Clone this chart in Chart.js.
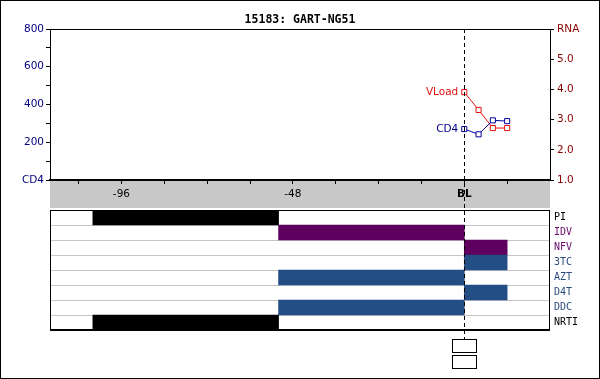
<!DOCTYPE html>
<html><head><meta charset="utf-8">
<script src="https://cdn.jsdelivr.net/npm/chart.js@4.4.0/dist/chart.umd.min.js"></script>
<style>
html,body{margin:0;padding:0;background:#fff;}
#wrap{position:relative;width:600px;height:379px;background:#fff;}
canvas{position:absolute;left:0;top:0;}
</style></head><body>
<div id="wrap"><canvas id="c1" width="600" height="379"></canvas><canvas id="c2" width="600" height="379"></canvas></div>
<script>
// ---- data ----
const chartTitle = '15183: GART-NG51';
const weeks = [0, 4, 8, 12];
const cd4 = [270, 242, 316, 312];
const vload = [3.91, 3.32, 2.72, 2.72];
const xTickValues = [-108, -96, -84, -72, -60, -48, -36, -24, -12, 0, 12];
const xTickLabelValues = [-96, -48, 0];
const xTickLabelTexts = ['-96', '-48', 'BL'];
const drugs = ['PI', 'IDV', 'NFV', '3TC', 'AZT', 'D4T', 'DDC', 'NRTI'];
const drugClass = ['PI', 'PI', 'PI', 'NRTI', 'NRTI', 'NRTI', 'NRTI', 'NRTI'];
const drugIsHeader = [true, false, false, false, false, false, false, true];
const drugStart = [-104, -52, 0, 0, -52, 0, -52, -104];
const drugEnd = [-52, 0, 12, 12, 0, 12, 0, -52];

// ---- styles ----
const X_MIN = -116, X_MAX = 24;
const classBarColor = {PI: '#5e005e', NRTI: '#224d85'};
const classLabelColor = {PI: '#6a0a6a', NRTI: '#2b4c7e'};
const barColors = drugs.map((d, i) => drugIsHeader[i] ? '#000000' : classBarColor[drugClass[i]]);
const labelColors = drugs.map((d, i) => drugIsHeader[i] ? '#000000' : classLabelColor[drugClass[i]]);
const SANS = '"DejaVu Sans", Verdana, sans-serif';
const MONO = '"DejaVu Sans Mono", monospace';

const decor1 = {
  id: 'decor1',
  beforeDraw(chart) {
    const ctx = chart.ctx, a = chart.chartArea;
    ctx.save();
    ctx.fillStyle = '#c8c8c8';
    ctx.fillRect(a.left, a.bottom, a.right - a.left, 28);
    ctx.restore();
  },
  afterDatasetsDraw(chart) {
    const ctx = chart.ctx;
    ctx.save();
    ctx.font = '10.5px ' + SANS;
    ctx.textAlign = 'right';
    ctx.textBaseline = 'middle';
    const m0 = chart.getDatasetMeta(0).data[0];
    const m1 = chart.getDatasetMeta(1).data[0];
    ctx.fillStyle = '#00008b';
    ctx.fillText('CD4', m0.x - 6, m0.y);
    ctx.fillStyle = '#e01010';
    ctx.fillText('VLoad', m1.x - 6, m1.y);
    ctx.restore();
  },
  afterDraw(chart) {
    const ctx = chart.ctx, a = chart.chartArea;
    ctx.save();
    ctx.strokeStyle = '#000';
    ctx.lineWidth = 1;
    ctx.beginPath();
    ctx.moveTo(a.left, a.top + 0.5);
    ctx.lineTo(a.right, a.top + 0.5);
    ctx.stroke();
    ctx.fillStyle = '#000';
    ctx.font = 'bold 11.5px ' + MONO;
    ctx.textAlign = 'center';
    ctx.textBaseline = 'middle';
    ctx.fillText(chartTitle, 300, 20);
    ctx.restore();
  }
};

new Chart(document.getElementById('c1'), {
  type: 'line',
  data: {
    datasets: [
      {label: 'CD4', data: weeks.map((w, i) => ({x: w, y: cd4[i]})), yAxisID: 'y',
       borderColor: '#0000a0', backgroundColor: '#ffffff', borderWidth: 1,
       pointStyle: 'rect', pointRadius: 3.6, pointBorderWidth: 1, pointBackgroundColor: '#ffffff', pointBorderColor: '#0000a0'},
      {label: 'VLoad', data: weeks.map((w, i) => ({x: w, y: vload[i]})), yAxisID: 'y2',
       borderColor: '#e01010', backgroundColor: '#ffffff', borderWidth: 1,
       pointStyle: 'rect', pointRadius: 3.6, pointBorderWidth: 1, pointBackgroundColor: '#ffffff', pointBorderColor: '#e01010'}
    ]
  },
  options: {
    responsive: false, animation: false, devicePixelRatio: 1,
    layout: {padding: {top: 29, bottom: 171, left: 0, right: 0}},
    plugins: {legend: {display: false}, tooltip: {enabled: false}, title: {display: false}},
    scales: {
      x: {
        type: 'linear', min: X_MIN, max: X_MAX,
        afterBuildTicks: s => { s.ticks = xTickValues.map(v => ({value: v})); },
        afterFit: s => { s.height = 28; },
        grid: {display: true, drawOnChartArea: false, drawTicks: true, tickLength: 4, color: '#000'},
        border: {display: true, color: '#000', width: 2},
        ticks: {
          autoSkip: false, maxRotation: 0, padding: 4, color: '#000',
          font: ctx => ({family: SANS, size: 10.5, weight: (ctx.tick && ctx.tick.value === 0) ? 'bold' : 'normal'}),
          callback: v => { const k = xTickLabelValues.indexOf(v); return k >= 0 ? xTickLabelTexts[k] : ''; }
        }
      },
      y: {
        type: 'linear', position: 'left', min: 0, max: 800,
        afterFit: s => { s.width = 50; },
        grid: {display: true, drawOnChartArea: false, drawTicks: true, tickLength: 4, color: '#000'},
        border: {display: true, color: '#000', width: 1},
        ticks: {stepSize: 100, padding: 2, color: '#000080', font: {family: SANS, size: 10.5},
          callback: v => v === 0 ? 'CD4' : (v % 200 === 0 ? String(v) : '')}
      },
      y2: {
        type: 'linear', position: 'right', min: 1, max: 6,
        afterFit: s => { s.width = 50; },
        grid: {display: true, drawOnChartArea: false, drawTicks: true, tickLength: 4, color: '#000'},
        border: {display: true, color: '#000', width: 1},
        ticks: {stepSize: 0.5, padding: 3, color: '#8b0000', font: {family: SANS, size: 10.5},
          callback: v => v === 6 ? 'RNA' : (Number.isInteger(v) ? v.toFixed(1) : '')}
      }
    }
  },
  plugins: [decor1]
});

const decor2 = {
  id: 'decor2',
  afterDraw(chart) {
    const ctx = chart.ctx, a = chart.chartArea;
    const x0 = Math.round(chart.scales.x.getPixelForValue(0)) + 0.5;
    ctx.save();
    ctx.strokeStyle = '#000';
    // panel border
    ctx.lineWidth = 1;
    ctx.strokeRect(a.left + 0.5, a.top + 0.5, a.right - a.left - 1, a.bottom - a.top);
    ctx.lineWidth = 2;
    ctx.beginPath(); ctx.moveTo(a.left, a.bottom); ctx.lineTo(a.right, a.bottom); ctx.stroke();
    // dashed baseline marker
    ctx.lineWidth = 1;
    ctx.setLineDash([4, 3]);
    ctx.beginPath(); ctx.moveTo(x0, 29); ctx.lineTo(x0, 339); ctx.stroke();
    ctx.setLineDash([]);
    // boxes
    ctx.strokeRect(x0 - 12, 339.5, 24, 13);
    ctx.strokeRect(x0 - 12, 355.5, 24, 13);
    // outer border
    ctx.strokeRect(0.5, 0.5, 599, 378);
    ctx.restore();
  }
};

new Chart(document.getElementById('c2'), {
  type: 'bar',
  data: {
    labels: drugs,
    datasets: [{
      data: drugs.map((d, i) => [drugStart[i], drugEnd[i]]),
      backgroundColor: barColors, borderWidth: 0,
      barPercentage: 1, categoryPercentage: 1
    }]
  },
  options: {
    indexAxis: 'y', responsive: false, animation: false, devicePixelRatio: 1,
    layout: {padding: {top: 210, bottom: 49, left: 50, right: 0}},
    plugins: {legend: {display: false}, tooltip: {enabled: false}},
    scales: {
      x: {type: 'linear', min: X_MIN, max: X_MAX, display: false},
      y: {
        position: 'right', z: 1,
        afterFit: s => { s.width = 50; },
        grid: {display: true, drawOnChartArea: true, drawTicks: false, color: '#c4c4c4', offset: true},
        border: {display: false},
        ticks: {padding: 4, color: ctx => labelColors[ctx.index], font: {family: MONO, size: 10}}
      }
    }
  },
  plugins: [decor2]
});
</script>
</body></html>
